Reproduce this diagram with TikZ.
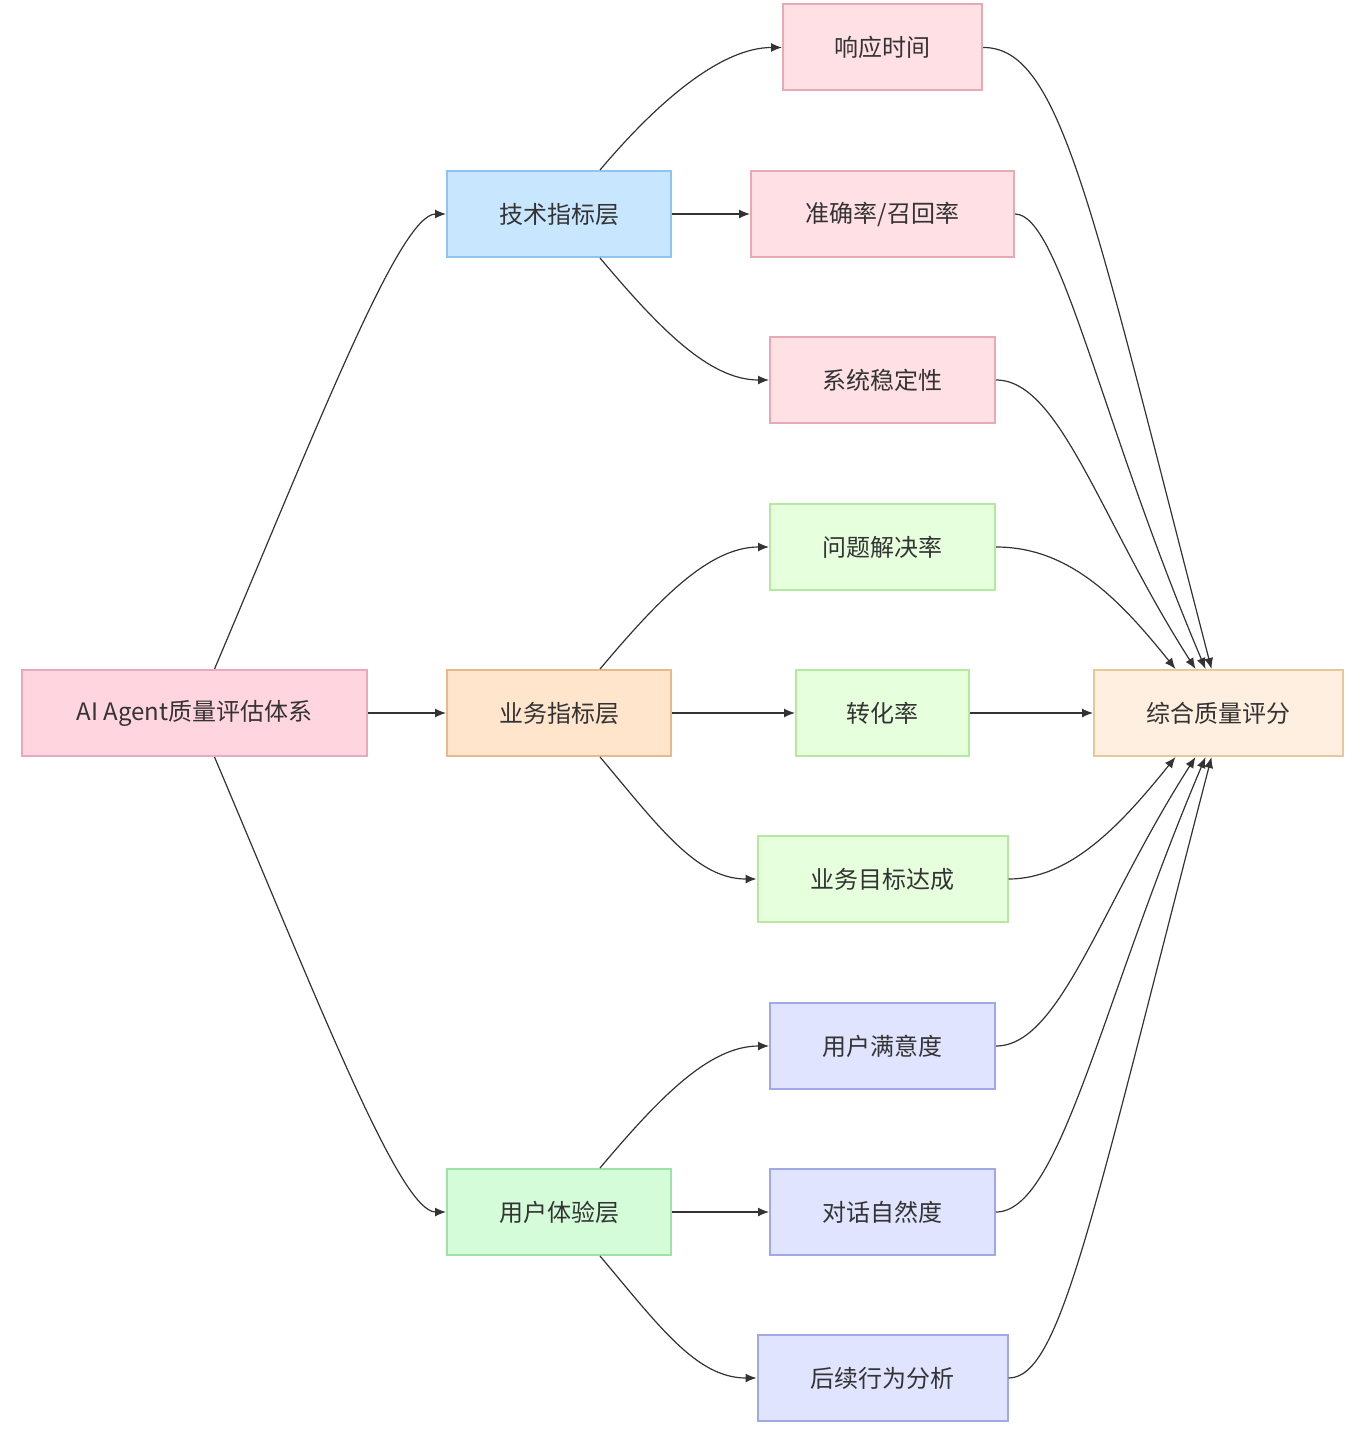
\documentclass[tikz,border=0pt]{standalone}
\usepackage{fontspec}
\setmainfont{Noto Sans CJK SC}
\usetikzlibrary{arrows.meta}
\definecolor{ln}{HTML}{333333}
\definecolor{HTML1}{HTML}{FFD6E0}\definecolor{HTML1b}{HTML}{E8A9BC}
\definecolor{tf}{HTML}{C9E6FF}\definecolor{tb}{HTML}{90C4F0}
\definecolor{bf}{HTML}{FFE5CC}\definecolor{bb}{HTML}{E8B88A}
\definecolor{uf}{HTML}{D4FCD8}\definecolor{ub}{HTML}{9DE3A6}
\definecolor{rf}{HTML}{FFE0E4}\definecolor{rb}{HTML}{E8A9B4}
\definecolor{gf}{HTML}{E6FFDD}\definecolor{gb}{HTML}{B5E8A0}
\definecolor{pf}{HTML}{E0E4FF}\definecolor{pb}{HTML}{A0A8E8}
\definecolor{ff}{HTML}{FFEFE0}\definecolor{fb}{HTML}{E8C89A}
\tikzset{
 box/.style={draw,line width=2pt,minimum height=86pt,inner sep=0pt,font=\fontsize{24}{28}\selectfont,text=ln},
 e/.style={draw=ln,line width=1.2pt,-{Latex[length=11pt,width=9pt]}},
}
\begin{document}
\begin{tikzpicture}[x=1pt,y=-1pt]
\useasboundingbox (0,0) rectangle (1360,1450);
\node[box,fill=HTML1,draw=HTML1b,minimum width=345pt] (root) at (194.5,713) {AI Agent质量评估体系};
\node[box,fill=tf,draw=tb,minimum width=224pt] (tech) at (559,214) {技术指标层};
\node[box,fill=bf,draw=bb,minimum width=224pt] (biz) at (559,713) {业务指标层};
\node[box,fill=uf,draw=ub,minimum width=224pt] (ux) at (559,1212) {用户体验层};
\node[box,fill=rf,draw=rb,minimum width=199pt] (t1) at (882.5,47.5) {响应时间};
\node[box,fill=rf,draw=rb,minimum width=263pt] (t2) at (882.5,214) {准确率/召回率};
\node[box,fill=rf,draw=rb,minimum width=225pt] (t3) at (882.5,380) {系统稳定性};
\node[box,fill=gf,draw=gb,minimum width=225pt] (b1) at (882.5,547) {问题解决率};
\node[box,fill=gf,draw=gb,minimum width=173pt] (b2) at (882.5,713) {转化率};
\node[box,fill=gf,draw=gb,minimum width=250pt] (b3) at (882.5,879) {业务目标达成};
\node[box,fill=pf,draw=pb,minimum width=225pt] (u1) at (882.5,1046) {用户满意度};
\node[box,fill=pf,draw=pb,minimum width=225pt] (u2) at (882.5,1212) {对话自然度};
\node[box,fill=pf,draw=pb,minimum width=250pt] (u3) at (882.5,1378) {后续行为分析};
\node[box,fill=ff,draw=fb,minimum width=249pt] (fin) at (1218.5,713) {综合质量评分};
% root
\draw[e] ([xshift=20pt]root.north) .. controls (320,420) and (400,214) .. (tech.west);
\draw[e] (root.east) -- (biz.west);
\draw[e] ([xshift=20pt]root.south) .. controls (320,1006) and (400,1212) .. (ux.west);
% layer -> children
\foreach \p/\a/\b/\c in {tech/t1/t2/t3, biz/b1/b2/b3, ux/u1/u2/u3}{
 \draw[e] ([xshift=41pt]\p.north) .. controls ([xshift=100pt,yshift=70pt]\p.north) and ([xshift=-60pt]\a.west) .. (\a.west);
 \draw[e] (\p.east) -- (\b.west);
 \draw[e] ([xshift=41pt]\p.south) .. controls ([xshift=100pt,yshift=-70pt]\p.south) and ([xshift=-60pt]\c.west) .. (\c.west);
}
% children -> final
\draw[e] (t1.east) .. controls (1060,47) and (1090,200) .. ([xshift=-7pt]fin.north);
\draw[e] (t2.east) .. controls (1060,214) and (1100,420) .. ([xshift=-13pt]fin.north);
\draw[e] (t3.east) .. controls (1060,380) and (1100,520) .. ([xshift=-23pt]fin.north);
\draw[e] (b1.east) .. controls (1070,547) and (1120,600) .. ([xshift=-43pt]fin.north);
\draw[e] (b2.east) -- (fin.west);
\draw[e] (b3.east) .. controls (1070,879) and (1120,826) .. ([xshift=-43pt]fin.south);
\draw[e] (u1.east) .. controls (1060,1046) and (1100,906) .. ([xshift=-23pt]fin.south);
\draw[e] (u2.east) .. controls (1060,1212) and (1100,1006) .. ([xshift=-13pt]fin.south);
\draw[e] (u3.east) .. controls (1060,1378) and (1090,1226) .. ([xshift=-7pt]fin.south);
\end{tikzpicture}
\end{document}
